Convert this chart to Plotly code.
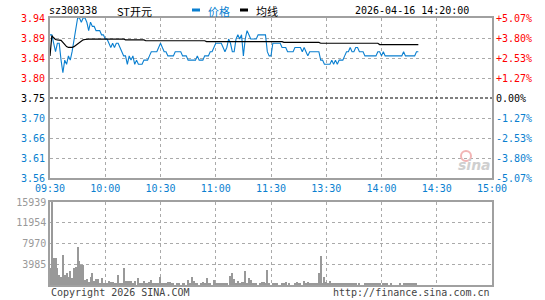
import plotly.graph_objects as go

# ---------------- data ----------------
code = "sz300338"
name = "ST开元"
stamp = "2026-04-16 14:20:00"
prev_close = 3.75

time_ticks = [0, 30, 60, 90, 120, 150, 180, 210, 240]
time_labels = ["09:30", "10:00", "10:30", "11:00", "11:30", "13:30", "14:00", "14:30", "15:00"]

price_ticks = [3.94, 3.8925, 3.845, 3.7975, 3.75, 3.7025, 3.655, 3.6075, 3.56]
price_labels = ["3.94", "3.89", "3.84", "3.80", "3.75", "3.70", "3.66", "3.61", "3.56"]
pct_labels = ["+5.07%", "+3.80%", "+2.53%", "+1.27%", "0.00%", "-1.27%", "-2.53%", "-3.80%", "-5.07%"]

vol_ticks = [3985, 7970, 11954, 15939]
vol_labels = ["3985", "7970", "11954", "15939"]

price = [
    3.90, 3.90, 3.88, 3.86, 3.88, 3.88, 3.84, 3.81, 3.84, 3.83,
    3.85, 3.84, 3.86, 3.89, 3.91, 3.94, 3.94, 3.93, 3.94, 3.94,
    3.93, 3.91, 3.93, 3.92, 3.92, 3.91, 3.91, 3.91, 3.90, 3.90,
    3.89, 3.89, 3.88, 3.87, 3.88, 3.87, 3.88, 3.88, 3.87, 3.86,
    3.85, 3.85, 3.83, 3.85, 3.84, 3.85, 3.83, 3.84, 3.83, 3.83,
    3.83, 3.84, 3.84, 3.84, 3.85, 3.86, 3.86, 3.86, 3.86, 3.87,
    3.88, 3.87, 3.86, 3.86, 3.85, 3.85, 3.85, 3.85, 3.86, 3.86,
    3.86, 3.86, 3.85, 3.85, 3.85, 3.84, 3.84, 3.84, 3.84, 3.84,
    3.85, 3.84, 3.84, 3.84, 3.85, 3.85, 3.85, 3.86, 3.86, 3.87,
    3.88, 3.88, 3.88, 3.88, 3.87, 3.86, 3.87, 3.89, 3.88, 3.86,
    3.86, 3.89, 3.90, 3.89, 3.90, 3.85, 3.89, 3.91, 3.90, 3.89,
    3.89, 3.89, 3.89, 3.90, 3.90, 3.90, 3.90, 3.90, 3.86, 3.85,
    3.85, 3.88, 3.88, 3.88, 3.88, 3.88, 3.87, 3.87, 3.87, 3.86,
    3.86, 3.86, 3.86, 3.87, 3.87, 3.87, 3.87, 3.86, 3.87, 3.86,
    3.85, 3.86, 3.86, 3.86, 3.86, 3.86, 3.86, 3.84, 3.84, 3.83,
    3.83, 3.83, 3.83, 3.84, 3.83, 3.84, 3.83, 3.84, 3.84, 3.84,
    3.85, 3.86, 3.86, 3.87, 3.86, 3.86, 3.87, 3.87, 3.86, 3.86,
    3.86, 3.85, 3.85, 3.85, 3.85, 3.85, 3.85, 3.85, 3.86, 3.86,
    3.85, 3.86, 3.85, 3.85, 3.85, 3.85, 3.85, 3.85, 3.85, 3.85,
    3.85, 3.85, 3.86, 3.85, 3.85, 3.85, 3.85, 3.85, 3.85, 3.86,
    3.86,
]

avg_price = [
    3.850, 3.898, 3.893, 3.889, 3.888, 3.888, 3.887, 3.882, 3.876, 3.872,
    3.870, 3.870, 3.870, 3.872, 3.875, 3.879, 3.883, 3.886, 3.888, 3.889,
    3.890, 3.890, 3.890, 3.890, 3.890, 3.890, 3.890, 3.890, 3.890, 3.890,
    3.890, 3.890, 3.890, 3.890, 3.890, 3.890, 3.890, 3.890, 3.890, 3.890,
    3.890, 3.888, 3.888, 3.888, 3.888, 3.888, 3.888, 3.888, 3.888, 3.888,
    3.888, 3.888, 3.886, 3.886, 3.886, 3.886, 3.886, 3.886, 3.886, 3.886,
    3.886, 3.886, 3.886, 3.886, 3.886, 3.886, 3.886, 3.886, 3.886, 3.886,
    3.886, 3.886, 3.886, 3.886, 3.886, 3.886, 3.886, 3.886, 3.886, 3.886,
    3.886, 3.886, 3.886, 3.886, 3.886, 3.884, 3.884, 3.884, 3.884, 3.884,
    3.884, 3.884, 3.884, 3.884, 3.884, 3.884, 3.884, 3.884, 3.884, 3.884,
    3.884, 3.884, 3.884, 3.884, 3.884, 3.884, 3.884, 3.884, 3.884, 3.884,
    3.884, 3.884, 3.884, 3.884, 3.884, 3.884, 3.884, 3.884, 3.884, 3.884,
    3.884, 3.884, 3.884, 3.884, 3.884, 3.884, 3.884, 3.882, 3.882, 3.882,
    3.882, 3.882, 3.882, 3.882, 3.882, 3.882, 3.882, 3.882, 3.882, 3.882,
    3.882, 3.882, 3.882, 3.882, 3.882, 3.882, 3.882, 3.880, 3.880, 3.880,
    3.880, 3.880, 3.880, 3.880, 3.880, 3.880, 3.880, 3.880, 3.880, 3.880,
    3.880, 3.880, 3.880, 3.880, 3.880, 3.880, 3.880, 3.880, 3.880, 3.880,
    3.880, 3.880, 3.880, 3.880, 3.880, 3.880, 3.880, 3.880, 3.880, 3.877,
    3.877, 3.877, 3.877, 3.877, 3.877, 3.877, 3.877, 3.877, 3.877, 3.877,
    3.877, 3.877, 3.877, 3.877, 3.877, 3.877, 3.877, 3.877, 3.877, 3.877,
    3.877,
]

volume = [
    3300, 15939, 5190, 5190, 3290, 1900, 1580, 5690, 1900, 2340,
    1580, 2660, 1390, 3290, 3420, 7210, 4550, 3920, 3800, 890,
    1200, 630, 1580, 2280, 760, 1140, 1200, 440, 1390, 440,
    440, 250, 820, 630, 630, 250, 440, 1960, 250, 250,
    3290, 820, 820, 820, 820, 440, 760, 0, 1390, 440,
    250, 820, 250, 380, 570, 1010, 250, 250, 250, 250,
    1520, 250, 250, 250, 630, 630, 250, 250, 0, 250,
    250, 0, 250, 250, 0, 1010, 440, 1580, 820, 250,
    250, 0, 250, 570, 250, 1390, 250, 250, 0, 1010,
    440, 250, 250, 250, 380, 250, 250, 0, 1710, 2400,
    1200, 380, 820, 250, 630, 630, 2720, 250, 1390, 1010,
    250, 250, 250, 0, 250, 630, 630, 440, 2910, 250,
    0, 250, 250, 250, 0, 0, 250, 250, 630, 0,
    250, 0, 0, 250, 630, 250, 250, 0, 820, 440,
    630, 250, 440, 250, 440, 250, 2340, 5570, 250, 1580,
    630, 440, 820, 440, 440, 250, 250, 250, 440, 250,
    250, 440, 250, 250, 440, 250, 250, 0, 440, 0,
    0, 250, 250, 250, 250, 250, 440, 250, 250, 250,
    0, 250, 250, 250, 0, 250, 0, 0, 0, 0,
    250, 0, 250, 250, 250, 250, 440, 250, 440, 250,
    0,
]

minutes = list(range(len(price)))

# ---------------- styling helpers ----------------
W, H = 545, 300
L, R, T, B = 50, 492, 18, 285
PRICE_BOTTOM, VOL_TOP = 178, 202
MONO = "DejaVu Sans Mono, Liberation Mono, monospace"
CJK = "Noto Sans CJK SC, sans-serif"
RED, BLUE, GRAY, BLACK = "#ff0000", "#0a7fd0", "#999999", "#000000"


def px(x):
    return (x - L) / (R - L)


def py(y):
    return (B - y) / (B - T)


fig = go.Figure()
fig.add_trace(go.Scatter(x=minutes, y=price, mode="lines",
                         line=dict(color=BLUE, width=1.1), xaxis="x", yaxis="y",
                         hoverinfo="skip"))
fig.add_trace(go.Scatter(x=minutes, y=avg_price, mode="lines",
                         line=dict(color=BLACK, width=1.2), xaxis="x", yaxis="y",
                         hoverinfo="skip"))
fig.add_trace(go.Bar(x=minutes, y=volume, width=0.55, marker=dict(color=GRAY, line=dict(width=0)),
                     xaxis="x2", yaxis="y2", hoverinfo="skip"))

grid = dict(showgrid=True, gridcolor="#aaaaaa", griddash="dot", gridwidth=1,
            showline=True, linecolor="#a0a0a0", linewidth=1.5, mirror=True,
            zeroline=False, ticks="")

price_grid_vals = [v for v in price_ticks if abs(v - prev_close) > 1e-9]

fig.update_layout(
    width=W, height=H,
    margin=dict(l=L, r=W - R, t=T, b=H - B),
    paper_bgcolor="white", plot_bgcolor="white",
    showlegend=False, bargap=0,
    xaxis=dict(domain=[0, 1], range=[0, 240], tickvals=time_ticks, ticktext=time_labels,
               tickfont=dict(family=MONO, size=10, color=BLUE), anchor="y", **grid),
    yaxis=dict(domain=[py(PRICE_BOTTOM), 1], range=[price_ticks[-1], price_ticks[0]],
               tickvals=price_grid_vals, showticklabels=False, anchor="x", **grid),
    xaxis2=dict(domain=[0, 1], range=[0, 240], tickvals=time_ticks, showticklabels=False,
                anchor="y2", **grid),
    yaxis2=dict(domain=[0, py(VOL_TOP)], range=[0, vol_ticks[-1]], tickvals=vol_ticks,
                ticktext=vol_labels, tickfont=dict(family=MONO, size=10, color=GRAY),
                anchor="x2", **grid),
)

# prev-close dashed line
fig.add_shape(type="line", xref="x", yref="y", x0=0, x1=240, y0=prev_close, y1=prev_close,
              line=dict(color=BLACK, width=1, dash="3px,2px"))

ann = []
for v, lab, pct in zip(price_ticks, price_labels, pct_labels):
    c = RED if v > prev_close + 1e-9 else (BLACK if abs(v - prev_close) < 1e-9 else BLUE)
    ann.append(dict(x=px(L - 3), y=v, xref="paper", yref="y", text=lab, showarrow=False,
                    xanchor="right", yanchor="middle", font=dict(family=MONO, size=10, color=c)))
    ann.append(dict(x=px(R + 2), y=v, xref="paper", yref="y", text=pct, showarrow=False,
                    xanchor="left", yanchor="middle", font=dict(family=MONO, size=10, color=c)))

# header
ann.append(dict(x=px(47), y=py(11), xref="paper", yref="paper", text=code, showarrow=False,
                xanchor="left", yanchor="middle", font=dict(family=MONO, size=10, color=BLACK)))
ann.append(dict(x=px(115), y=py(11), xref="paper", yref="paper", text=name, showarrow=False,
                xanchor="left", yanchor="middle", font=dict(family=CJK, size=11, color=BLACK)))
ann.append(dict(x=px(206), y=py(11), xref="paper", yref="paper", text="价格", showarrow=False,
                xanchor="left", yanchor="middle", font=dict(family=CJK, size=11, color=BLUE)))
ann.append(dict(x=px(254), y=py(11), xref="paper", yref="paper", text="均线", showarrow=False,
                xanchor="left", yanchor="middle", font=dict(family=CJK, size=11, color=BLACK)))
ann.append(dict(x=px(471), y=py(11), xref="paper", yref="paper", text=stamp, showarrow=False,
                xanchor="right", yanchor="middle", font=dict(family=MONO, size=10, color=BLACK)))
fig.add_shape(type="line", xref="paper", yref="paper", x0=px(192), x1=px(200), y0=py(10), y1=py(10),
              line=dict(color=BLUE, width=3))
fig.add_shape(type="line", xref="paper", yref="paper", x0=px(240), x1=px(248), y0=py(10), y1=py(10),
              line=dict(color=BLACK, width=3))

# footer
ann.append(dict(x=px(49), y=py(292), xref="paper", yref="paper", text="Copyright 2026 SINA.COM",
                showarrow=False, xanchor="left", yanchor="middle",
                font=dict(family=MONO, size=10, color="#444444")))
ann.append(dict(x=px(492), y=py(292), xref="paper", yref="paper", text="http://finance.sina.com.cn",
                showarrow=False, xanchor="right", yanchor="middle",
                font=dict(family=MONO, size=10, color="#444444")))

# watermark
ann.append(dict(x=px(474), y=py(165), xref="paper", yref="paper", text="<b><i>sina</i></b>",
                showarrow=False, xanchor="center", yanchor="middle",
                font=dict(family="DejaVu Sans", size=14, color="#cfcfcf")))
fig.add_shape(type="circle", xref="paper", yref="paper", x0=px(461), x1=px(471), y0=py(161), y1=py(151),
              line=dict(color="#f2b5b5", width=2))

fig.update_layout(annotations=ann)
fig.write_html("out.html")
